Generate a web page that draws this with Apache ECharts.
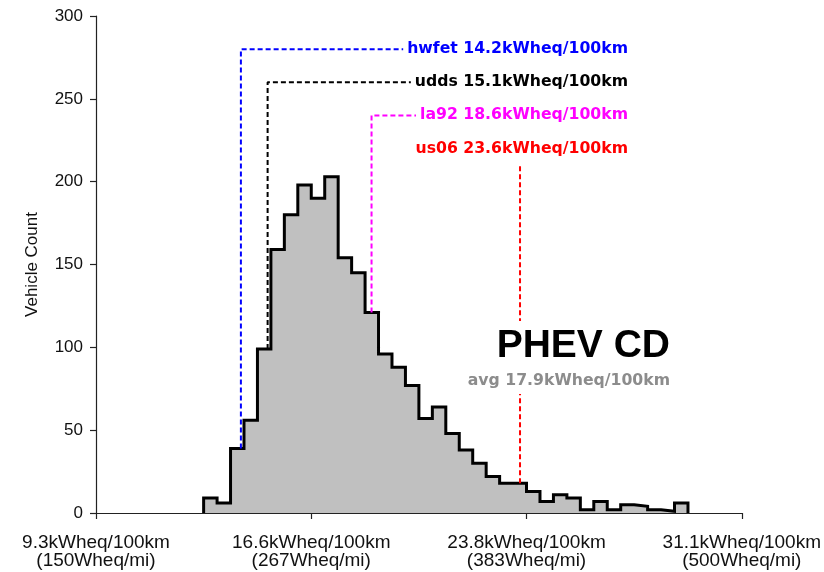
<!DOCTYPE html>
<html>
<head>
<meta charset="utf-8">
<script src="https://cdn.jsdelivr.net/npm/echarts@6/dist/echarts.min.js"></script>
<style>
  html, body { margin: 0; padding: 0; background: #ffffff; }
  #chart { width: 824px; height: 572px; }
</style>
</head>
<body>
<div id="chart"></div>
<script>
// Vehicle-count histogram of charge-depleting energy use (bins in Wh/mi)
const binStartWhMi = 150 + 8 * 350 / 48;   // left edge of the first populated bin
const binWidthWhMi = 350 / 48;
const vehicleCounts = [9, 6, 39, 56, 99, 159, 180, 198, 190, 203, 154, 145, 121, 96, 88, 77,
                       57, 64, 48, 38, 30, 22, 18, 18, 13, 7, 11, 9, 2, 7, 2, 5, 4, 2, 1, 6];

// x-axis ticks (Wh/mi) and their two-line labels
const tickWhMi = [150, 800 / 3, 1150 / 3, 500];
const tickKwhLabels = ['9.3kWheq/100km', '16.6kWheq/100km', '23.8kWheq/100km', '31.1kWheq/100km'];
const tickWhMiLabels = ['(150Wheq/mi)', '(267Wheq/mi)', '(383Wheq/mi)', '(500Wheq/mi)'];

// drive-cycle reference results (kWheq/100km) and the count level of their labels
const cycleNames = ['hwfet', 'udds', 'la92', 'us06'];
const cycleKwh = [14.2, 15.1, 18.6, 23.6];
const cycleLabelLevel = [280, 260, 240, 220];

const avgKwh = 17.9;
const titleText = 'PHEV CD';

// styling
const cycleColor = { hwfet: '#0000ff', udds: '#000000', la92: '#ff00ff', us06: '#ff0000' };
const cycleFont = 'bold 15.7px "DejaVu Sans"';
const WHMI_PER_KWH100KM = 16.09344;

const chart = echarts.init(document.getElementById('chart'), null, { renderer: 'canvas' });

// step outline of the histogram
const histPoints = [[binStartWhMi, 0]];
vehicleCounts.forEach((c, i) => histPoints.push([binStartWhMi + i * binWidthWhMi, c]));
const histEnd = binStartWhMi + vehicleCounts.length * binWidthWhMi;
histPoints.push([histEnd, vehicleCounts[vehicleCounts.length - 1]]);
histPoints.push([histEnd, 0]);

function countAt(whmi) {
  const i = Math.floor((whmi - binStartWhMi) / binWidthWhMi);
  return (i >= 0 && i < vehicleCounts.length) ? vehicleCounts[i] : 0;
}

const histSeries = {
  type: 'line', name: 'histogram', step: 'end', symbol: 'none', z: 2,
  data: histPoints,
  lineStyle: { color: '#000000', width: 3, join: 'miter' },
  areaStyle: { color: '#c0c0c0', opacity: 1 }
};

const axisColor = '#222222';
chart.setOption({
  animation: false,
  backgroundColor: '#ffffff',
  grid: { left: 96, right: 78, top: 16, bottom: 59, containLabel: false },
  xAxis: {
    type: 'value', min: 150, max: 500,
    axisLine: { show: true, onZero: false, lineStyle: { color: axisColor, width: 1.2 } },
    axisTick: { show: true, length: 6, customValues: tickWhMi, lineStyle: { color: axisColor, width: 1.2 } },
    splitLine: { show: false },
    axisLabel: {
      customValues: tickWhMi,
      margin: 21,
      color: '#111111',
      fontFamily: '"Liberation Sans", Arial, sans-serif',
      fontSize: 19,
      lineHeight: 18,
      formatter: (v) => {
        let idx = 0, best = Infinity;
        tickWhMi.forEach((t, i) => { const d = Math.abs(t - v); if (d < best) { best = d; idx = i; } });
        return tickKwhLabels[idx] + '\n' + tickWhMiLabels[idx];
      }
    }
  },
  yAxis: {
    type: 'value', min: 0, max: 300, interval: 50,
    name: 'Vehicle Count', nameLocation: 'middle', nameGap: 55, nameRotate: 90,
    nameTextStyle: { fontFamily: '"Liberation Sans", Arial, sans-serif', fontSize: 17, color: '#111111' },
    axisLine: { show: true, lineStyle: { color: axisColor, width: 1.2 } },
    axisTick: { show: true, length: 6, lineStyle: { color: axisColor, width: 1.2 } },
    splitLine: { show: false },
    axisLabel: { margin: 13, color: '#111111', fontFamily: '"Liberation Sans", Arial, sans-serif', fontSize: 17 }
  },
  series: [histSeries]
});

// text widths, so the dashed leaders meet their labels
const measureCtx = document.createElement('canvas').getContext('2d');
function textWidth(text, font) { measureCtx.font = font; return measureCtx.measureText(text).width; }

const labelRightPx = 628;
const series = [histSeries];
const graphics = [];
cycleNames.forEach((name, i) => {
  const x = cycleKwh[i] * WHMI_PER_KWH100KM;
  const level = cycleLabelLevel[i];
  const text = name + ' ' + cycleKwh[i].toFixed(1) + 'kWheq/100km';
  const w = textWidth(text, cycleFont);
  const yPx = chart.convertToPixel({ gridIndex: 0 }, [x, level])[1];
  let pts;
  if (name === 'us06') {
    pts = [[x, countAt(x)], [x, level - 9]];
  } else {
    const endX = chart.convertFromPixel({ gridIndex: 0 }, [labelRightPx - w - 4, yPx])[0];
    pts = [[x, countAt(x)], [x, level], [endX, level]];
  }
  series.push({
    type: 'line', name: name, symbol: 'none', z: 3, data: pts,
    lineStyle: { color: cycleColor[name], width: 2, type: [5, 3] }
  });
  graphics.push({
    type: 'text', x: labelRightPx, y: yPx, z: 10,
    style: { text: text, font: cycleFont, fill: cycleColor[name], align: 'right', verticalAlign: 'middle' }
  });
});

// PHEV CD title block with the fleet average beneath it
const avgText = 'avg ' + avgKwh.toFixed(1) + 'kWheq/100km';
graphics.push({
  type: 'rect', z: 9, shape: { x: 462, y: 321, width: 212, height: 73 },
  style: { fill: '#ffffff' }
});
graphics.push({
  type: 'text', x: 670, y: 346, z: 10,
  style: { text: titleText, font: 'bold 39px "Liberation Sans", Arial, sans-serif', fill: '#000000', align: 'right', verticalAlign: 'middle' }
});
graphics.push({
  type: 'text', x: 670, y: 381, z: 10,
  style: { text: avgText, font: 'bold 15.7px "DejaVu Sans"', fill: '#8c8c8c', align: 'right', verticalAlign: 'middle' }
});

chart.setOption({ series: series, graphic: graphics });
</script>
</body>
</html>
